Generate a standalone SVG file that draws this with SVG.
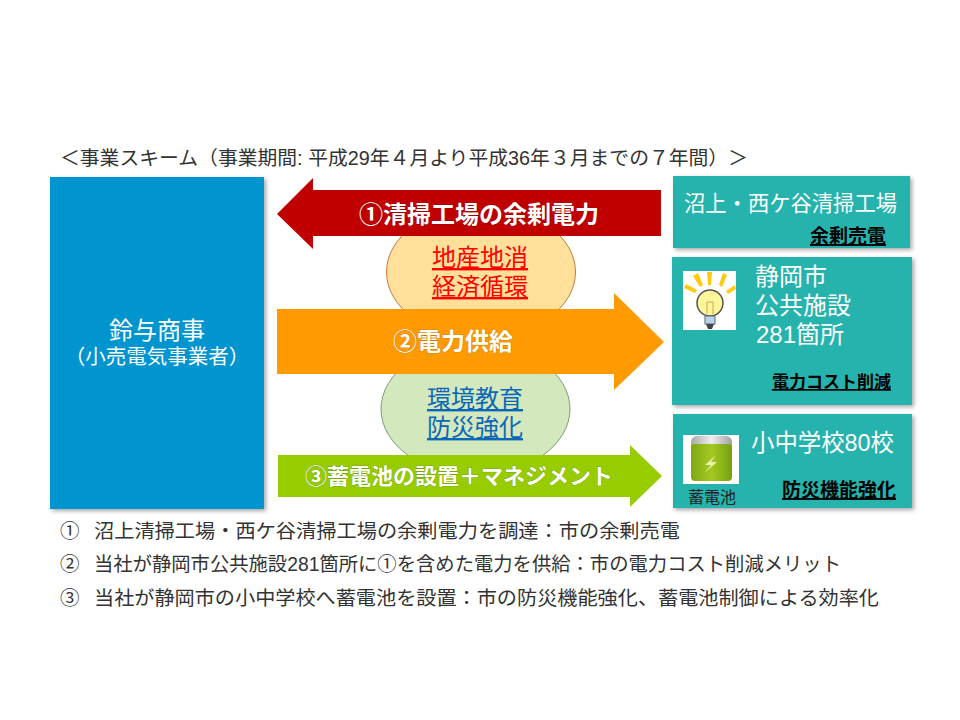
<svg xmlns="http://www.w3.org/2000/svg" width="960" height="720" viewBox="0 0 960 720">
<defs>
<style>
text{font-family:"Liberation Sans","Noto Sans CJK JP",sans-serif}
.w{fill:#fff;font-size:24px}
.b{font-weight:700;fill:#fff;font-size:24px;text-anchor:middle;paint-order:stroke;stroke:#0003;stroke-width:1px}
.k{font-weight:700;fill:#000;font-size:18px;text-anchor:end;text-decoration:underline}
.l{font-size:19.5px;fill:#333}
.u{font-size:24px;text-anchor:middle;text-decoration:underline}
.box{fill:#25b3ad}
</style>
<filter id="s" x="-5%" y="-5%" width="112%" height="112%"><feDropShadow dx="2" dy="2" stdDeviation="2" flood-color="#000" flood-opacity=".35"/></filter>
<linearGradient id="bat" x1="0" x2="1" y1="0" y2="0"><stop offset="0" stop-color="#7ea814"/><stop offset=".5" stop-color="#a4c91f"/><stop offset="1" stop-color="#74a012"/></linearGradient>
<linearGradient id="cap" x1="0" x2="1" y1="0" y2="0"><stop offset="0" stop-color="#a8a8a8"/><stop offset=".5" stop-color="#eee"/><stop offset="1" stop-color="#a0a0a0"/></linearGradient>
</defs>
<rect width="960" height="720" fill="#fff"/>
<text id="title" x="60" y="165" font-size="19.5" fill="#333" textLength="688" lengthAdjust="spacingAndGlyphs">＜事業スキーム（事業期間: 平成29年４月より平成36年３月までの７年間）＞</text>
<g id="node-suzuyo">
<rect x="50" y="177" width="214" height="332" fill="#0595cf" filter="url(#s)"/>
<text x="157" y="339" font-size="24" fill="#fff" text-anchor="middle">鈴与商事</text>
<text x="157" y="364" font-size="20.500" fill="#fff" text-anchor="middle">（小売電気事業者）</text>
</g>
<g id="node-local">
<ellipse cx="481" cy="272" rx="94.500" ry="66" fill="#ffe09b" stroke="#c9783c"/>
<text class="u" x="480" y="266" fill="#f00">地産地消</text>
<text class="u" x="480" y="295" fill="#f00">経済循環</text>
</g>
<g id="node-edu">
<ellipse cx="475.500" cy="409" rx="94.500" ry="66" fill="#d3e8bc" stroke="#7f9a7a"/>
<text class="u" x="475" y="407" fill="#0a67b8">環境教育</text>
<text class="u" x="475" y="436" fill="#0a67b8">防災強化</text>
</g>
<g id="connectors">
<g id="arrow1">
<polygon points="277,214 313,178 313,190 661,190 661,236 313,236 313,249" fill="#c00000"/>
<text class="b" x="479" y="223">①清掃工場の余剰電力</text>
</g>
<g id="arrow2">
<polygon points="277,309 614,309 614,293 664,342 614,390 614,374 277,374" fill="#ff9a00"/>
<text class="b" x="453" y="350">②電力供給</text>
</g>
<g id="arrow3">
<polygon points="278,455 630,455 630,445 662,476 630,507 630,497 278,497" fill="#96cc00"/>
<text class="b" x="459" y="484" style="font-size:22px">③蓄電池の設置＋マネジメント</text>
</g>
</g>
<g id="node-plant">
<rect class="box" x="673" y="176" width="237" height="72" filter="url(#s)"/>
<text x="684" y="211" style="font-size:22px" class="w" textLength="213" lengthAdjust="spacingAndGlyphs">沼上・西ケ谷清掃工場</text>
<text class="k" x="886" y="243" style="font-size:19px">余剰売電</text>
</g>
<g id="node-city">
<rect class="box" x="672" y="257" width="240" height="148" filter="url(#s)"/>
<rect x="683" y="271" width="53" height="59" fill="#fff"/>
<g fill="#ffc90e">
<polygon points="707,272 712,272 711,285 708,285"/>
<polygon points="693,276 698,273 703,285 700,287"/>
<polygon points="684,288 686,284 697,290 695,293"/>
<polygon points="719,285 723,273 727,275 722,287"/>
<polygon points="726,291 735,285 736,289 728,294"/>
</g>
<circle cx="710" cy="303" r="13" fill="#fff59a" stroke="#555" stroke-width="1.500"/>
<rect x="705" y="316" width="10" height="8" fill="#b7d4ee" stroke="#666"/>
<polygon points="706,324 714,324 712,329 708,329" fill="#444"/>
<path d="M707 314V302h6v12" fill="none" stroke="#c9a94a"/>
<text x="755" y="285" class="w">静岡市</text>
<text x="755" y="314" class="w">公共施設</text>
<text x="756" y="343" class="w">281箇所</text>
<text class="k" x="891" y="388" style="font-size:17px">電力コスト削減</text>
</g>
<g id="node-school">
<rect class="box" x="673" y="414" width="239" height="94" filter="url(#s)"/>
<rect x="683" y="435" width="56" height="49" fill="#fff"/>
<rect x="691" y="436" width="41" height="16" rx="6" fill="url(#cap)"/>
<rect x="691" y="444" width="41" height="37" rx="4" fill="url(#bat)"/>
<polygon points="716,455 705,465 711,465 704,473 717,462 711,462" fill="#e8f2b0"/>
<text x="712" y="503" font-size="16" fill="#222" text-anchor="middle">蓄電池</text>
<text x="751" y="451" class="w" textLength="143" lengthAdjust="spacingAndGlyphs">小中学校80校</text>
<text class="k" x="896" y="497" style="font-size:19px">防災機能強化</text>
</g>
<g id="notes">
<text class="l" x="60" y="538">①</text><text class="l" x="94" y="538" textLength="586" lengthAdjust="spacingAndGlyphs">沼上清掃工場・西ケ谷清掃工場の余剰電力を調達：市の余剰売電</text>
<text class="l" x="60" y="571">②</text><text class="l" x="94" y="571" textLength="747" lengthAdjust="spacingAndGlyphs">当社が静岡市公共施設281箇所に①を含めた電力を供給：市の電力コスト削減メリット</text>
<text class="l" x="60" y="605">③</text><text class="l" x="94" y="605" textLength="785" lengthAdjust="spacingAndGlyphs">当社が静岡市の小中学校へ蓄電池を設置：市の防災機能強化、蓄電池制御による効率化</text>
</g>
</svg>
